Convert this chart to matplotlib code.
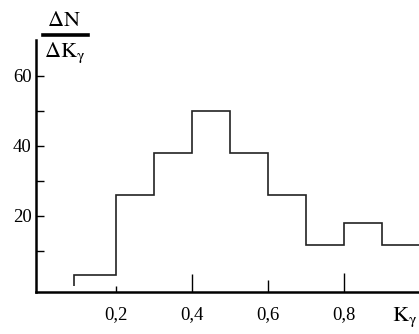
import numpy as np
import matplotlib.pyplot as plt
from matplotlib.lines import Line2D

plt.rcParams['font.family'] = ['Liberation Serif', 'DejaVu Serif']
plt.rcParams['mathtext.fontset'] = 'stix'

# histogram of K_gamma, bins of width 0.1
edges = [0.09, 0.2, 0.3, 0.4, 0.5, 0.6, 0.7, 0.8, 0.9, 1.0]
counts = [3, 26, 38, 50, 38, 26, 11.5, 18, 11.5]
xticks = [0.2, 0.4, 0.6, 0.8]
xlabels = ['0,2', '0,4', '0,6', '0,8']
yticks = [20, 40, 60]
yminor = [10, 30, 50]

fig = plt.figure(figsize=(4.19, 3.34), dpi=100)
ax = fig.add_axes([0.086, 0.126, 0.914, 0.755])

ax.stairs(counts, edges, baseline=0, fill=False, color='#222222', linewidth=1.2)

ax.set_xlim(-0.01, 0.998)
ax.set_ylim(-1.8, 70.3)

for s in ['top', 'right']:
    ax.spines[s].set_visible(False)
ax.spines['left'].set_linewidth(1.8)
ax.spines['bottom'].set_linewidth(1.8)

ax.set_xticks(xticks)
ax.set_xticklabels(xlabels)
ax.set_yticks(yticks)
ax.set_yticks(yminor, minor=True)
ax.tick_params(axis='x', direction='in', length=12, width=1.0, pad=10, labelsize=13.5)
ax.tick_params(axis='y', which='both', direction='in', length=5.5, width=1.0, pad=3, labelsize=13.5)
# uneven tick marks on the x axis as in the original drawing
for t, ln in zip(ax.xaxis.get_major_ticks(), [4, 13, 9, 13.5]):
    t.tick1line.set_markersize(ln)

# y label as a fraction in the top-left corner
fig.text(64 / 419, 1 - 22 / 334, r'$\mathrm{\Delta N}$', ha='center', va='center', fontsize=16)
fig.add_artist(Line2D([43 / 419, 88 / 419], [1 - 35 / 334, 1 - 35 / 334],
                      color='black', linewidth=2.6, transform=fig.transFigure))
fig.text(65 / 419, 1 - 53 / 334, r'$\mathrm{\Delta K_\gamma}$', ha='center', va='center', fontsize=16)

fig.text(405 / 419, 1 - 317 / 334, r'$\mathrm{K_\gamma}$', ha='center', va='center', fontsize=16)

plt.savefig('out.png', dpi=100)
